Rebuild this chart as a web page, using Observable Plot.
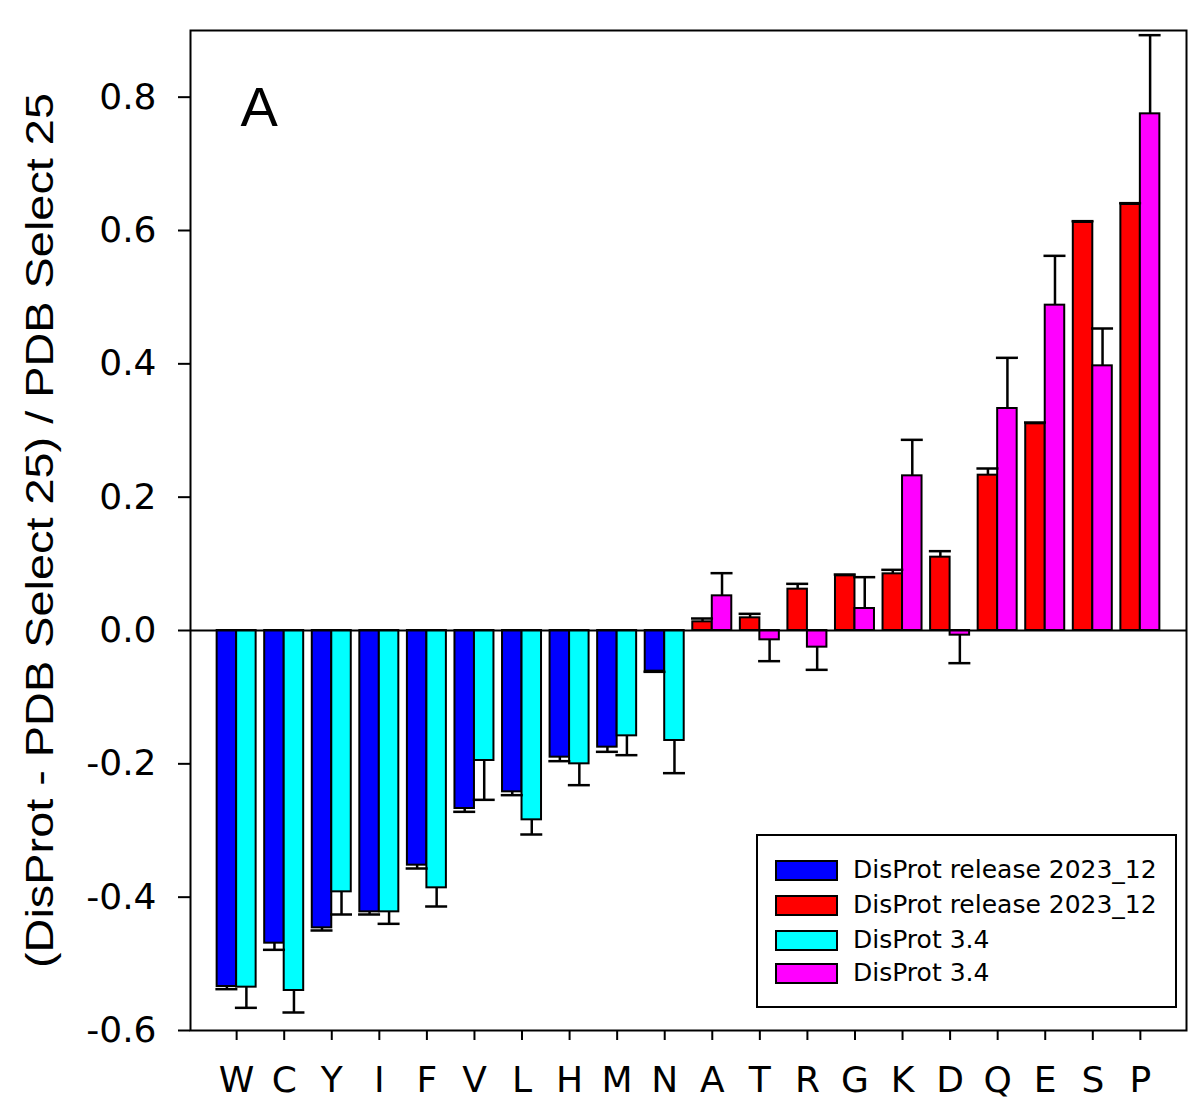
<!DOCTYPE html>
<html>
<head>
<meta charset="utf-8">
<script src="https://cdn.jsdelivr.net/npm/d3@7"></script>
<script src="https://cdn.jsdelivr.net/npm/@observablehq/plot@0.6"></script>
<style>
  html, body { margin: 0; padding: 0; background: #fff; }
  #wrap { position: relative; width: 1188px; height: 1102px; overflow: hidden; }
  #legend { position: absolute; left: 756px; top: 834px; width: 417px; height: 170px;
            border: 2px solid #000; background: #fff; font-family: "DejaVu Sans", sans-serif; }
  .row { position: absolute; left: 17px; height: 21px; }
  .sw { position: absolute; left: 0; top: 0; width: 59px; height: 17px; border: 2px solid #000; }
  .lab { position: absolute; left: 78px; top: -5px; font-size: 25px; line-height: 30px; white-space: nowrap; color: #000; }
</style>
</head>
<body>
<div id="wrap"></div>
<script>
// ---- data ----
const categories = ["W","C","Y","I","F","V","L","H","M","N","A","T","R","G","K","D","Q","E","S","P"];
const depleted = ["W","C","Y","I","F","V","L","H","M","N"];
const rel2023 = [-0.534,-0.469,-0.446,-0.422,-0.352,-0.267,-0.242,-0.190,-0.175,-0.061,
                  0.013, 0.019, 0.062, 0.082, 0.085, 0.110, 0.233, 0.310, 0.612, 0.639];
const rel2023Err = [0.004,0.010,0.004,0.004,0.005,0.005,0.005,0.006,0.007,0.001,
                    0.005,0.006,0.008,0.002,0.006,0.009,0.010,0.002,0.002,0.002];
const v34 = [-0.535,-0.540,-0.392,-0.422,-0.386,-0.195,-0.284,-0.200,-0.158,-0.165,
              0.052,-0.014,-0.025, 0.033, 0.232,-0.007, 0.333, 0.488, 0.397, 0.775];
const v34Err = [0.031,0.033,0.034,0.018,0.028,0.059,0.022,0.032,0.029,0.049,
                0.034,0.032,0.034,0.047,0.054,0.042,0.076,0.074,0.056,0.118];
const yTicks = [-0.6,-0.4,-0.2,0.0,0.2,0.4,0.6,0.8];
const seriesNames = ["DisProt release 2023_12","DisProt release 2023_12","DisProt 3.4","DisProt 3.4"];
const seriesColors = ["#0000ff","#ff0000","#00ffff","#ff00ff"];
const yLabel = "(DisProt - PDB Select 25) / PDB Select 25";
const panelLabel = "A";

// ---- tables ----
const rowsA = categories.map((c, i) => ({cat: c, v: rel2023[i], e: rel2023Err[i],
  fill: depleted.includes(c) ? seriesColors[0] : seriesColors[1]}));
const rowsB = categories.map((c, i) => ({cat: c, v: v34[i], e: v34Err[i],
  fill: depleted.includes(c) ? seriesColors[2] : seriesColors[3]}));
const tip = d => d.v + Math.sign(d.v) * d.e;

// ---- layout ----
const W = 1188, H = 1102, mL = 190, mR = 2, mT = 30, mB = 72;
const padOuter = 0.47;
const step = (W - mL - mR) / (categories.length + 2 * padOuter);
const barW = 19.5, capHalf = 11;
const half = step / 2;

const chart = Plot.plot({
  width: W, height: H,
  marginLeft: mL, marginRight: mR, marginTop: mT, marginBottom: mB,
  style: {fontFamily: "DejaVu Sans, sans-serif", color: "#000", background: "#fff"},
  x: {type: "band", domain: categories, paddingInner: 0, paddingOuter: padOuter, round: false, label: null},
  y: {domain: [-0.6, 0.9], label: null},
  color: {type: "identity"},
  marks: [
    Plot.barY(rowsA, {x: "cat", y: "v", fill: "fill", stroke: "#000", strokeWidth: 2,
      insetLeft: half - barW, insetRight: half}),
    Plot.barY(rowsB, {x: "cat", y: "v", fill: "fill", stroke: "#000", strokeWidth: 2,
      insetLeft: half, insetRight: half - barW}),
    Plot.ruleX(rowsA, {x: "cat", y1: "v", y2: tip, stroke: "#000", strokeWidth: 2.5, dx: -barW / 2}),
    Plot.ruleX(rowsB, {x: "cat", y1: "v", y2: tip, stroke: "#000", strokeWidth: 2.5, dx: barW / 2}),
    Plot.tickY(rowsA, {x: "cat", y: tip, stroke: "#000", strokeWidth: 2.5,
      insetLeft: half - barW / 2 - capHalf, insetRight: half + barW / 2 - capHalf}),
    Plot.tickY(rowsB, {x: "cat", y: tip, stroke: "#000", strokeWidth: 2.5,
      insetLeft: half + barW / 2 - capHalf, insetRight: half - barW / 2 - capHalf}),
    Plot.ruleY([0], {stroke: "#000", strokeWidth: 2}),
    Plot.frame({stroke: "#000", strokeWidth: 2}),
    Plot.axisY({ticks: yTicks, tickSize: 12, tickPadding: 22, tickFormat: d => d.toFixed(1),
      fontSize: 36, strokeWidth: 2, label: null}),
    Plot.axisX({tickSize: 10, tickPadding: 26, fontSize: 36, strokeWidth: 2, label: null}),
    Plot.text([panelLabel], {frameAnchor: "top-left", dx: 50, dy: 56, fontSize: 56,
      fontFamily: "Liberation Sans, Arial, sans-serif", textAnchor: "start", lineAnchor: "top"}),
    Plot.text([yLabel], {frameAnchor: "left", dx: -150, dy: 0, rotate: -90, fontSize: 38,
      fontFamily: "Liberation Sans, Arial, sans-serif", textAnchor: "middle", lineAnchor: "middle"})
  ]
});

// stretch y label to the reference length
d3.select(chart).selectAll("text").filter(function() { return this.textContent === yLabel; })
  .attr("textLength", 875).attr("lengthAdjust", "spacingAndGlyphs");

const wrap = document.getElementById("wrap");
wrap.appendChild(chart);

// legend inside plot area
const legend = document.createElement("div");
legend.id = "legend";
const tops = [24, 59, 94, 127];
seriesNames.forEach((name, i) => {
  const row = document.createElement("div");
  row.className = "row";
  row.style.top = tops[i] + "px";
  const sw = document.createElement("div");
  sw.className = "sw";
  sw.style.background = seriesColors[i];
  const lab = document.createElement("div");
  lab.className = "lab";
  lab.textContent = name;
  row.appendChild(sw); row.appendChild(lab);
  legend.appendChild(row);
});
wrap.appendChild(legend);
</script>
</body>
</html>
